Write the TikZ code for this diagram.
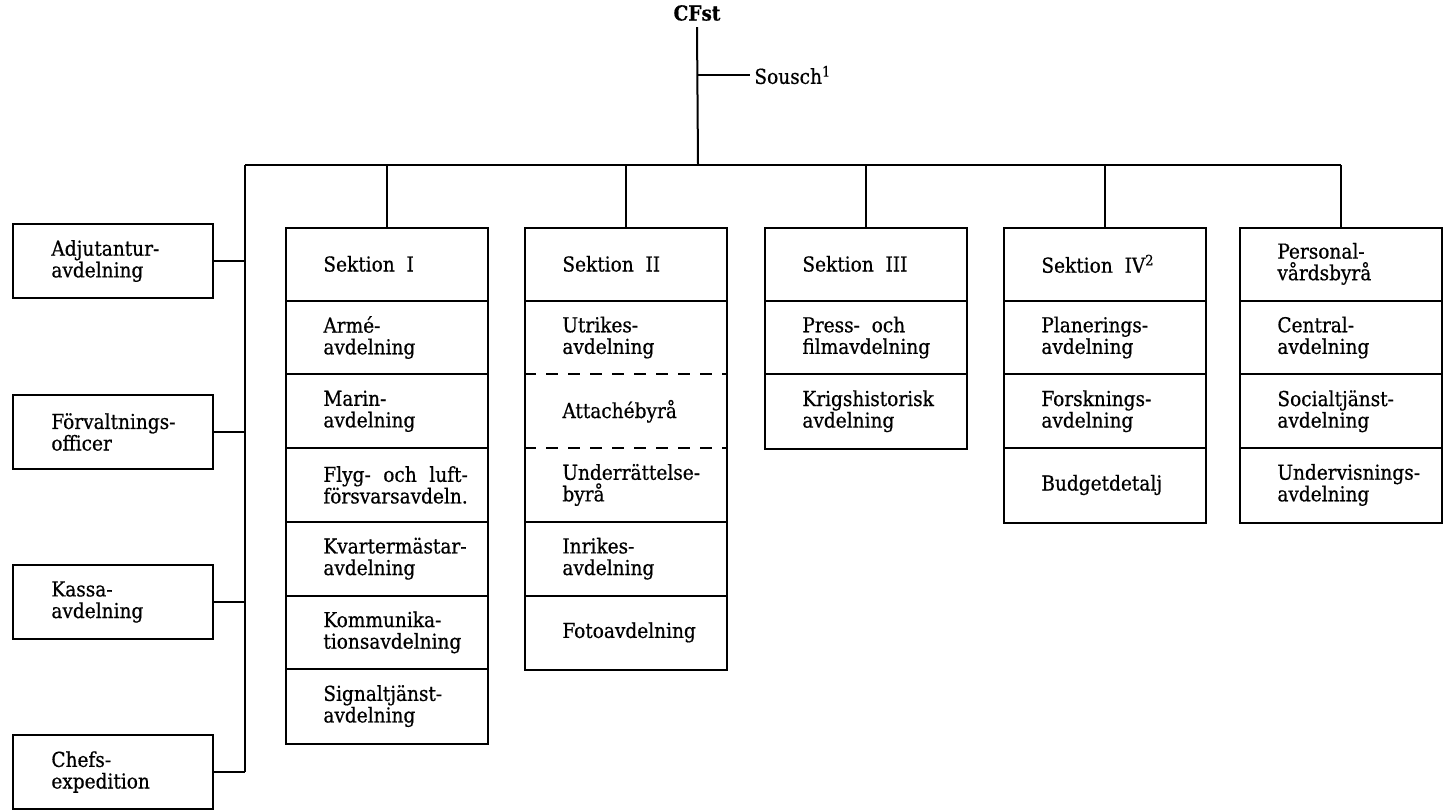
\documentclass[tikz,border=0pt]{standalone}
\usepackage{fontspec}
\setmainfont{DejaVu Serif Condensed}[FakeBold=0.6]
\usepackage{calc}
\usetikzlibrary{positioning}

\tikzset{
  chart line/.style={line width=1pt},
  sidebox/.style={draw, line width=1pt, minimum width=100pt, minimum height=37pt, inner sep=0pt},
  colbox/.style={draw, line width=1pt, minimum width=101pt, anchor=north, inner sep=0pt},
  cell/.style={anchor=west, align=left, inner sep=0pt, font=\fontsize{10.3}{10.8}\selectfont},
}

\begin{document}
\begin{tikzpicture}[x=0.5pt, y=-0.5pt]
\useasboundingbox (0,0) rectangle (1444,810);

% Chief and deputy
\node[cell, anchor=center, inner sep=3pt, font=\fontsize{10.3}{10.8}\selectfont\bfseries] (cfst) at (697,13) {CFst};
\coordinate (sousch-stub) at (698,75);
\node[cell, inner sep=2pt] (sousch) at (750,75) {Sousch\textsuperscript{1}};
\coordinate (bar-mid) at (698,165);
\draw[chart line] (cfst.south) -- (bar-mid);
\draw[chart line] (sousch-stub) -- (sousch.west);

% Main bar
\coordinate (bar-left) at (245,165);
\coordinate (bar-right) at (1341,165);
\draw[chart line] (bar-left) -- (bar-right);

% Sections
\foreach \i/\cx/\n in {1/387/7, 2/626/6, 3/866/3, 4/1105/4, 5/1341/4} {
  \coordinate (drop-\i) at (\cx,165);
  \node[colbox, minimum height=\n*36.85pt] (sek-\i) at (\cx,227) {};
  \draw[chart line] (drop-\i) -- (sek-\i.north);
}

% Dividers
\foreach \i/\k in {1/1, 1/2, 1/3, 1/4, 1/5, 1/6, 2/1, 2/4, 2/5, 3/1, 3/2, 4/1, 4/2, 4/3, 5/1, 5/2, 5/3} {
  \draw[chart line] ([yshift=-\k*36.85pt]sek-\i.north west) -- ([yshift=-\k*36.85pt]sek-\i.north east);
}
\foreach \k in {2, 3} {
  \draw[chart line, dash pattern=on 6pt off 5pt] ([yshift=-\k*36.85pt]sek-2.north west) -- ([yshift=-\k*36.85pt]sek-2.north east);
}

% Cell texts
\foreach \i/\k/\txt in {
  1/1/{Sektion\ \ I}, 1/2/{Armé-\\avdelning}, 1/3/{Marin-\\avdelning},
  1/4/{\makebox[\widthof{försvarsavdeln.}][s]{Flyg- och luft-}\\försvarsavdeln.},
  1/5/{Kvartermästar-\\avdelning}, 1/6/{Kommunika-\\tionsavdelning}, 1/7/{Signaltjänst-\\avdelning},
  2/1/{Sektion\ \ II}, 2/2/{Utrikes-\\avdelning}, 2/3/{Attachébyrå},
  2/4/{Underrättelse-\\byrå}, 2/5/{Inrikes-\\avdelning}, 2/6/{Fotoavdelning},
  3/1/{Sektion\ \ III}, 3/2/{Press-\ \ och\\filmavdelning}, 3/3/{Krigshistorisk\\avdelning},
  4/1/{Sektion\ \ IV\textsuperscript{2}}, 4/2/{Planerings-\\avdelning}, 4/3/{Forsknings-\\avdelning}, 4/4/{Budgetdetalj},
  5/1/{Personal-\\vårdsbyrå}, 5/2/{Central-\\avdelning}, 5/3/{Socialtjänst-\\avdelning}, 5/4/{Undervisnings-\\avdelning}} {
  \node[cell] (cell-\i-\k) at ([xshift=19pt, yshift=-(\k-0.5)*36.85pt]sek-\i.north west) {\txt};
}

% Staff offices on the left
\foreach \j/\cy/\txt in {1/261/{Adjutantur-\\avdelning}, 2/432/{Förvaltnings-\\officer}, 3/602/{Kassa-\\avdelning}, 4/772/{Chefs-\\expedition}} {
  \node[sidebox] (side-\j) at (113,\cy) {};
  \node[cell] (side-\j-text) at (51,\cy) {\txt};
  \coordinate (trunk-\j) at (245,\cy);
  \draw[chart line] (side-\j.east) -- (trunk-\j);
}
\draw[chart line] (bar-left) -- (trunk-4);

\end{tikzpicture}
\end{document}
